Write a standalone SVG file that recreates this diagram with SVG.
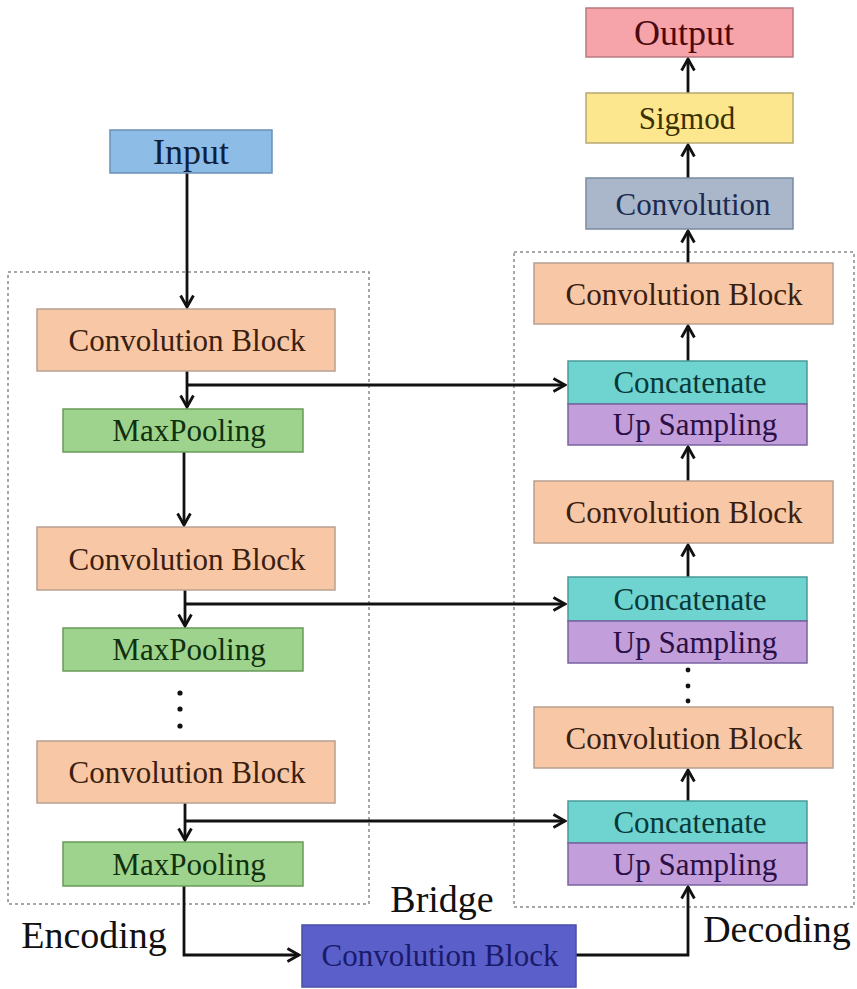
<svg xmlns="http://www.w3.org/2000/svg" width="857" height="989" viewBox="0 0 857 989">
  <style>
    .conv { fill: #f8c7a5; stroke: #b8a090; stroke-width: 1.5; }
    .pool { fill: #9dd38c; stroke: #6a9a5a; stroke-width: 1.5; }
    .cat { fill: #6fd3cf; stroke: #4a9a98; stroke-width: 1.5; }
    .up { fill: #c29edb; stroke: #7a62a0; stroke-width: 1.5; }
    .region { fill: none; stroke: #8a8a8a; stroke-width: 1.5; stroke-dasharray: 3 3; }
    .wire { fill: none; stroke: #111; stroke-width: 2.8; marker-end: url(#head); }
    .dot { fill: #111; }
  </style>
  <defs>
    <marker id="head" viewBox="0 0 12 12" refX="10.5" refY="6" markerWidth="5.5" markerHeight="5.5" markerUnits="strokeWidth" orient="auto">
      <path d="M1.5,1 L10.5,6 L1.5,11" fill="none" stroke="#111" stroke-width="2.2"/>
    </marker>
  </defs>

  <rect width="857" height="989" fill="#ffffff"/>

  <!-- region outlines -->
  <rect class="region" x="8" y="272" width="361" height="632"/>
  <rect class="region" x="514" y="252" width="340" height="655"/>

  <!-- connectors -->
  <g id="connectors">
    <path class="wire" d="M187,173 V307"/>
    <path class="wire" d="M187,371 V407"/>
    <path class="wire" d="M187,385 H565"/>
    <path class="wire" d="M184,452 V525"/>
    <path class="wire" d="M185,590 V626"/>
    <path class="wire" d="M185,604 H565"/>
    <path class="wire" d="M185,803 V840"/>
    <path class="wire" d="M185,821 H565"/>
    <path class="wire" d="M184,886 V955 H299"/>
    <path class="wire" d="M576,955 H688 V887"/>
    <path class="wire" d="M688,801 V770"/>
    <path class="wire" d="M688,577 V545"/>
    <path class="wire" d="M688,481 V447"/>
    <path class="wire" d="M688,361 V326"/>
    <path class="wire" d="M688,263 V231"/>
    <path class="wire" d="M688,178 V145"/>
    <path class="wire" d="M688,93 V59"/>
    <circle class="dot" cx="180" cy="693" r="2.6"/>
    <circle class="dot" cx="180" cy="709" r="2.6"/>
    <circle class="dot" cx="180" cy="726" r="2.6"/>
    <circle class="dot" cx="688" cy="670" r="2.4"/>
    <circle class="dot" cx="688" cy="686" r="2.4"/>
    <circle class="dot" cx="688" cy="701" r="2.4"/>
  </g>

  <g font-family="Liberation Serif, Times New Roman, serif" text-anchor="middle" font-size="31">
    <!-- encoder -->
    <g id="input">
      <rect x="110" y="130" width="162" height="43" fill="#8dbde6" stroke="#6a90b8" stroke-width="1.5"/>
      <text x="191" y="164" font-size="36" fill="#10203a">Input</text>
    </g>
    <g id="enc-conv1">
      <rect class="conv" x="37" y="309" width="298" height="62"/>
      <text x="187" y="351" fill="#3a2010">Convolution Block</text>
    </g>
    <g id="enc-pool1">
      <rect class="pool" x="63" y="409" width="240" height="43"/>
      <text x="189" y="441" fill="#10300f">MaxPooling</text>
    </g>
    <g id="enc-conv2">
      <rect class="conv" x="37" y="527" width="298" height="63"/>
      <text x="187" y="570" fill="#3a2010">Convolution Block</text>
    </g>
    <g id="enc-pool2">
      <rect class="pool" x="63" y="628" width="240" height="43"/>
      <text x="189" y="660" fill="#10300f">MaxPooling</text>
    </g>
    <g id="enc-conv3">
      <rect class="conv" x="37" y="741" width="298" height="62"/>
      <text x="187" y="783" fill="#3a2010">Convolution Block</text>
    </g>
    <g id="enc-pool3">
      <rect class="pool" x="63" y="842" width="240" height="44"/>
      <text x="189" y="875" fill="#10300f">MaxPooling</text>
    </g>

    <!-- bridge -->
    <g id="bridge">
      <rect x="302" y="925" width="274" height="62" fill="#5a5fc9" stroke="#4a4fa8" stroke-width="1.5"/>
      <text x="440" y="966" fill="#1a1a6a">Convolution Block</text>
    </g>

    <!-- decoder -->
    <g id="dec-up3">
      <rect class="cat" x="568" y="801" width="239" height="42"/>
      <text x="690" y="833" fill="#083838">Concatenate</text>
      <rect class="up" x="568" y="843" width="239" height="42"/>
      <text x="695" y="875" fill="#2a1045">Up Sampling</text>
    </g>
    <g id="dec-conv3">
      <rect class="conv" x="534" y="707" width="299" height="61"/>
      <text x="684" y="749" fill="#3a2010">Convolution Block</text>
    </g>
    <g id="dec-up2">
      <rect class="cat" x="568" y="577" width="239" height="44"/>
      <text x="690" y="610" fill="#083838">Concatenate</text>
      <rect class="up" x="568" y="621" width="239" height="42"/>
      <text x="695" y="653" fill="#2a1045">Up Sampling</text>
    </g>
    <g id="dec-conv2">
      <rect class="conv" x="534" y="481" width="299" height="62"/>
      <text x="684" y="523" fill="#3a2010">Convolution Block</text>
    </g>
    <g id="dec-up1">
      <rect class="cat" x="568" y="361" width="239" height="43"/>
      <text x="690" y="393" fill="#083838">Concatenate</text>
      <rect class="up" x="568" y="404" width="239" height="41"/>
      <text x="695" y="435" fill="#2a1045">Up Sampling</text>
    </g>
    <g id="dec-conv1">
      <rect class="conv" x="534" y="263" width="299" height="61"/>
      <text x="684" y="305" fill="#3a2010">Convolution Block</text>
    </g>

    <!-- output head -->
    <g id="head-conv">
      <rect x="586" y="178" width="207" height="51" fill="#aab6c9" stroke="#7a8aa0" stroke-width="1.5"/>
      <text x="693" y="215" fill="#1a2a50">Convolution</text>
    </g>
    <g id="sigmoid">
      <rect x="586" y="93" width="207" height="50" fill="#fce68e" stroke="#b8a870" stroke-width="1.5"/>
      <text x="687" y="129" fill="#3a3000">Sigmod</text>
    </g>
    <g id="output">
      <rect x="586" y="8" width="207" height="49" fill="#f7a3aa" stroke="#b87a80" stroke-width="1.5"/>
      <text x="684" y="45" font-size="36" fill="#4a0a10">Output</text>
    </g>

    <!-- section captions -->
    <text x="94" y="948" font-size="38" fill="#111">Encoding</text>
    <text x="442" y="912" font-size="38" fill="#111">Bridge</text>
    <text x="777" y="942" font-size="38" fill="#111">Decoding</text>
  </g>
</svg>
